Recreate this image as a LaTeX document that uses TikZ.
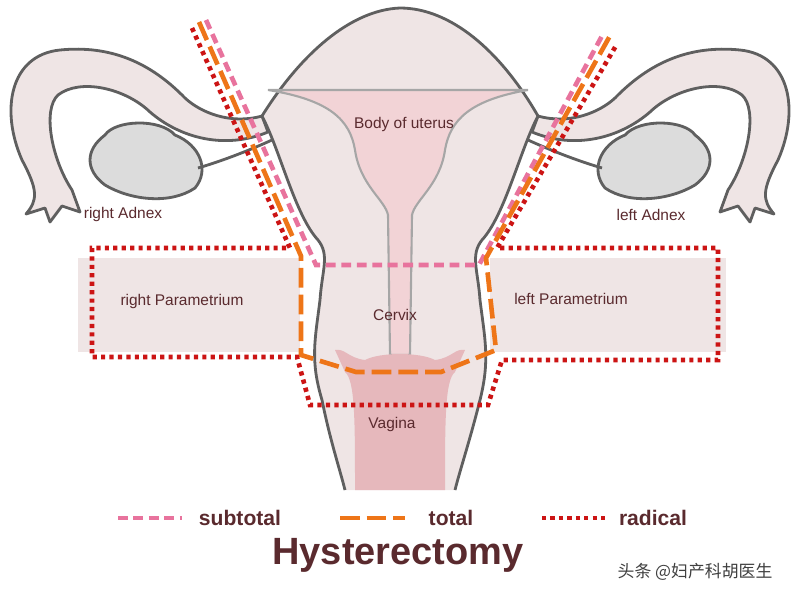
\documentclass[tikz,border=0pt]{standalone}
\usepackage{fontspec}
\setmainfont{Liberation Sans}
\newfontfamily\cjk{Noto Sans CJK SC}
\definecolor{tissue}{HTML}{EFE5E5}
\definecolor{cavity}{HTML}{F2D3D6}
\definecolor{canal}{HTML}{E6B8BC}
\definecolor{ovary}{HTML}{DCDCDC}
\definecolor{outline}{HTML}{5F5F5F}
\definecolor{labeltext}{HTML}{5A2A2E}
\definecolor{subcol}{HTML}{E8739D}
\definecolor{totcol}{HTML}{EE7518}
\definecolor{radcol}{HTML}{CC1414}

\begin{document}
\begin{tikzpicture}[x=0.025cm,y=-0.025cm,
organ/.style={fill=tissue,draw=outline,line width=2pt,line join=round},
subtotal/.style={subcol,line width=3.3pt,dash pattern=on 7pt off 4pt},
total/.style={totcol,line width=3.3pt,dash pattern=on 14pt off 5pt},
radical/.style={radcol,line width=3.3pt,dash pattern=on 3pt off 3pt},
lbl/.style={text=labeltext,font=\fontsize{11}{13}\selectfont},
legend/.style={text=labeltext,font=\fontsize{15}{17}\selectfont\bfseries}
]
\useasboundingbox (0,0) rectangle (800,600);

% parametrium boxes
\fill[tissue] (78,258) rectangle (300,352);
\fill[tissue] (490,258) rectangle (726,352);

% tubes and ovaries, both sides
\foreach \side in {1,-1}{
\begin{scope}[shift={(400,0)},xscale=\side,shift={(-400,0)}]
\draw[organ] (262,116) .. controls (230,125) and (200,112) .. (185,98)
  .. controls (150,62) and (110,45) .. (60,50)
  .. controls (10,55) and (0,110) .. (22,160)
  .. controls (38,190) and (38,200) .. (26,214) -- (45,208) -- (50,222)
  -- (62,206) -- (80,212) -- (72,190)
  .. controls (52,160) and (42,110) .. (58,95)
  .. controls (80,78) and (125,88) .. (150,112)
  .. controls (180,138) and (225,150) .. (268,132) -- cycle;
\draw[organ,fill=ovary] (105,135) .. controls (115,120) and (160,118) .. (175,135)
  .. controls (200,145) and (210,170) .. (195,188)
  .. controls (170,205) and (130,200) .. (105,185)
  .. controls (85,170) and (85,150) .. (105,135) -- cycle;
\draw[organ] (198,168) .. controls (225,160) and (250,150) .. (272,140);
\end{scope}}

% uterus
\fill[tissue] (262,116) .. controls (300,55) and (350,10) .. (400,8)
  .. controls (450,8) and (500,50) .. (538,116)
  .. controls (520,150) and (505,215) .. (482,240)
  .. controls (470,255) and (478,270) .. (480,300)
  .. controls (485,340) and (490,360) .. (480,400)
  .. controls (470,440) and (460,470) .. (455,490) -- (345,490)
  .. controls (340,470) and (330,440) .. (322,400)
  .. controls (310,360) and (315,340) .. (320,300)
  .. controls (322,270) and (330,255) .. (318,240)
  .. controls (295,215) and (280,150) .. cycle;
\draw[outline,line width=2pt] (262,116) .. controls (300,55) and (350,10) .. (400,8)
  .. controls (450,8) and (500,50) .. (538,116)
  .. controls (520,150) and (505,215) .. (482,240)
  .. controls (470,255) and (478,270) .. (480,300)
  .. controls (485,340) and (490,360) .. (480,400)
  .. controls (470,440) and (460,470) .. (455,490)
  (345,490) .. controls (340,470) and (330,440) .. (322,400)
  .. controls (310,360) and (315,340) .. (320,300)
  .. controls (322,270) and (330,255) .. (318,240)
  .. controls (295,215) and (280,150) .. (262,116);
\draw[fill=cavity,draw=gray!70,line width=1.5pt] (268,90) -- (528,90)
  .. controls (470,100) and (450,120) .. (445,150)
  .. controls (440,185) and (415,200) .. (412,215) -- (410,355) -- (390,355)
  -- (388,215) .. controls (385,200) and (360,185) .. (355,150)
  .. controls (350,120) and (330,100) .. cycle;
\fill[canal] (335,350) .. controls (345,348) and (348,358) .. (365,360)
  .. controls (380,352) and (420,352) .. (435,360)
  .. controls (452,358) and (455,348) .. (465,350)
  -- (455,372) .. controls (445,380) and (445,420) .. (445,490)
  -- (355,490) .. controls (355,420) and (355,380) .. (345,372) -- cycle;

% labels
\node[lbl] (body) at (404,124) {Body of uterus};
\node[lbl] (cervix) at (395,315) {Cervix};
\node[lbl] (vagina) at (392,424) {Vagina};
\node[lbl] (radnex) at (123,214) {right Adnex};
\node[lbl] (ladnex) at (651,215) {left Adnex};
\node[lbl] (rparam) at (182,301) {right Parametrium};
\node[lbl] (lparam) at (571,299) {left Parametrium};

% resection margins
\draw[subtotal] (206,20) -- (316,265) -- (479,265) -- (603,34);
\draw[total] (199,22) -- (301,256) -- (301,355) -- (356,372) -- (441,372) -- (496,350) -- (486,258) -- (611,34);
\draw[radical] (192,28) -- (290,248) -- (92,248) -- (92,357) -- (297,357) -- (310,405) -- (488,405) -- (502,360) -- (718,360) -- (718,248) -- (497,248) -- (617,44);

% legend
\coordinate (s1) at (118,518); \coordinate (s2) at (182,518);
\coordinate (t1) at (340,518); \coordinate (t2) at (405,518);
\coordinate (r1) at (542,518); \coordinate (r2) at (606,518);
\draw[subtotal] (s1) -- (s2);
\draw[total] (t1) -- (t2);
\draw[radical] (r1) -- (r2);
\node[legend] (lsub) at (240,518) {subtotal};
\node[legend] (ltot) at (451,518) {total};
\node[legend] (lrad) at (653,518) {radical};
\node[text=labeltext,font=\fontsize{27}{30}\selectfont\bfseries] (title) at (398,555) {Hysterectomy};
\node[font=\cjk\fontsize{12}{14}\selectfont,text=black!75] (mark) at (695,572) {头条 @妇产科胡医生};
\end{tikzpicture}
\end{document}
